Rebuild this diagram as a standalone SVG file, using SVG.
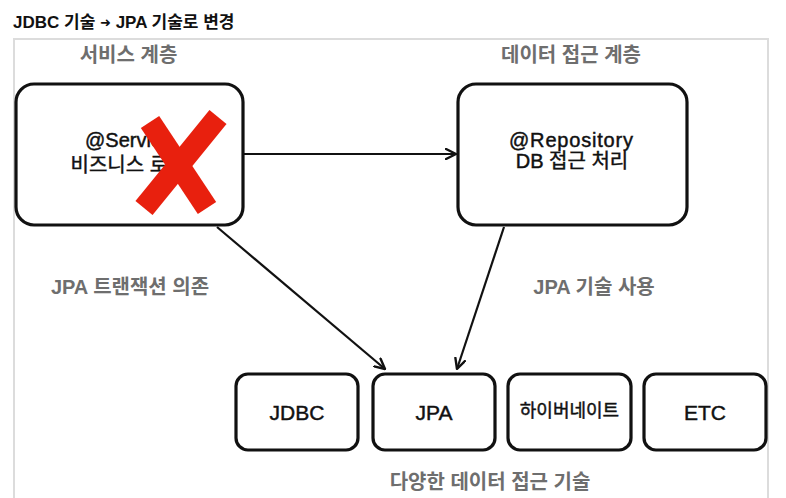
<svg xmlns="http://www.w3.org/2000/svg" width="786" height="498" viewBox="0 0 786 498">
<style>
.box{fill:#fff;stroke:#111;stroke-width:3.2;}
.lbl{font-family:"Liberation Sans","Noto Sans CJK KR",sans-serif;fill:#111;stroke:#111;stroke-width:0.45;text-anchor:middle;}
.gray{font-family:"Liberation Sans","Noto Sans CJK KR",sans-serif;fill:#6e6e6e;font-weight:bold;text-anchor:middle;font-size:20px;}
.edge{stroke:#111;stroke-width:2.2;fill:none;}
</style>
<defs>
<marker id="arr" viewBox="0 0 12 12" refX="11" refY="6" markerWidth="12" markerHeight="12" markerUnits="userSpaceOnUse" orient="auto">
<path d="M1,1 L11,6 L1,11" fill="none" stroke="#111" stroke-width="2.4" stroke-linecap="round" stroke-linejoin="round"/>
</marker>
</defs>
<rect width="786" height="498" fill="#fff"/>
<rect x="14" y="39" width="754" height="480" fill="none" stroke="#dcdcdc" stroke-width="2"/>
<text x="13" y="28" font-family="Liberation Sans,'Noto Sans CJK KR',sans-serif" font-weight="bold" font-size="17" fill="#111">JDBC 기술 <tspan font-family="DejaVu Sans,sans-serif" font-size="13" dy="-1">➜</tspan><tspan dy="1"> JPA 기술로 변경</tspan></text>
<text class="gray" x="128.5" y="62" font-size="19">서비스 계층</text>
<text class="gray" x="571" y="62" font-size="19">데이터 접근 계층</text>
<text class="gray" x="130" y="294">JPA 트랜잭션 의존</text>
<text class="gray" x="594" y="294">JPA 기술 사용</text>
<text class="gray" x="490" y="489">다양한 데이터 접근 기술</text>
<g id="connectors">
<line class="edge" x1="244" y1="154" x2="456" y2="154" marker-end="url(#arr)"/>
<line class="edge" x1="217" y1="227" x2="385" y2="369" marker-end="url(#arr)"/>
<line class="edge" x1="504" y1="227" x2="457" y2="369" marker-end="url(#arr)"/>
</g>
<g id="service">
<rect class="box" x="16" y="84" width="227" height="141" rx="18"/>
<text class="lbl" x="128.5" y="147" font-size="20">@Service</text>
<text class="lbl" x="128.5" y="172" font-size="20">비즈니스 로직</text>
<g stroke="#e8200e" stroke-width="22" fill="none">
<line x1="150" y1="122" x2="207" y2="208"/>
<line x1="218" y1="117" x2="144" y2="208"/>
</g>
</g>
<g id="repository">
<rect class="box" x="458" y="84" width="229" height="141" rx="18"/>
<text class="lbl" x="571" y="147" font-size="20" textLength="124" lengthAdjust="spacing">@Repository</text>
<text class="lbl" x="572" y="168" font-size="20">DB 접근 처리</text>
</g>
<g id="jdbc">
<rect class="box" x="236" y="374" width="122" height="76" rx="12"/>
<text class="lbl" x="297" y="420" font-size="21">JDBC</text>
</g>
<g id="jpa">
<rect class="box" x="373" y="374" width="122" height="76" rx="12"/>
<text class="lbl" x="434" y="420" font-size="21">JPA</text>
</g>
<g id="hibernate">
<rect class="box" x="508" y="374" width="123" height="76" rx="12"/>
<text class="lbl" x="569.5" y="417" font-size="18">하이버네이트</text>
</g>
<g id="etc">
<rect class="box" x="644" y="374" width="122" height="76" rx="12"/>
<text class="lbl" x="705" y="420" font-size="21">ETC</text>
</g>
</svg>
